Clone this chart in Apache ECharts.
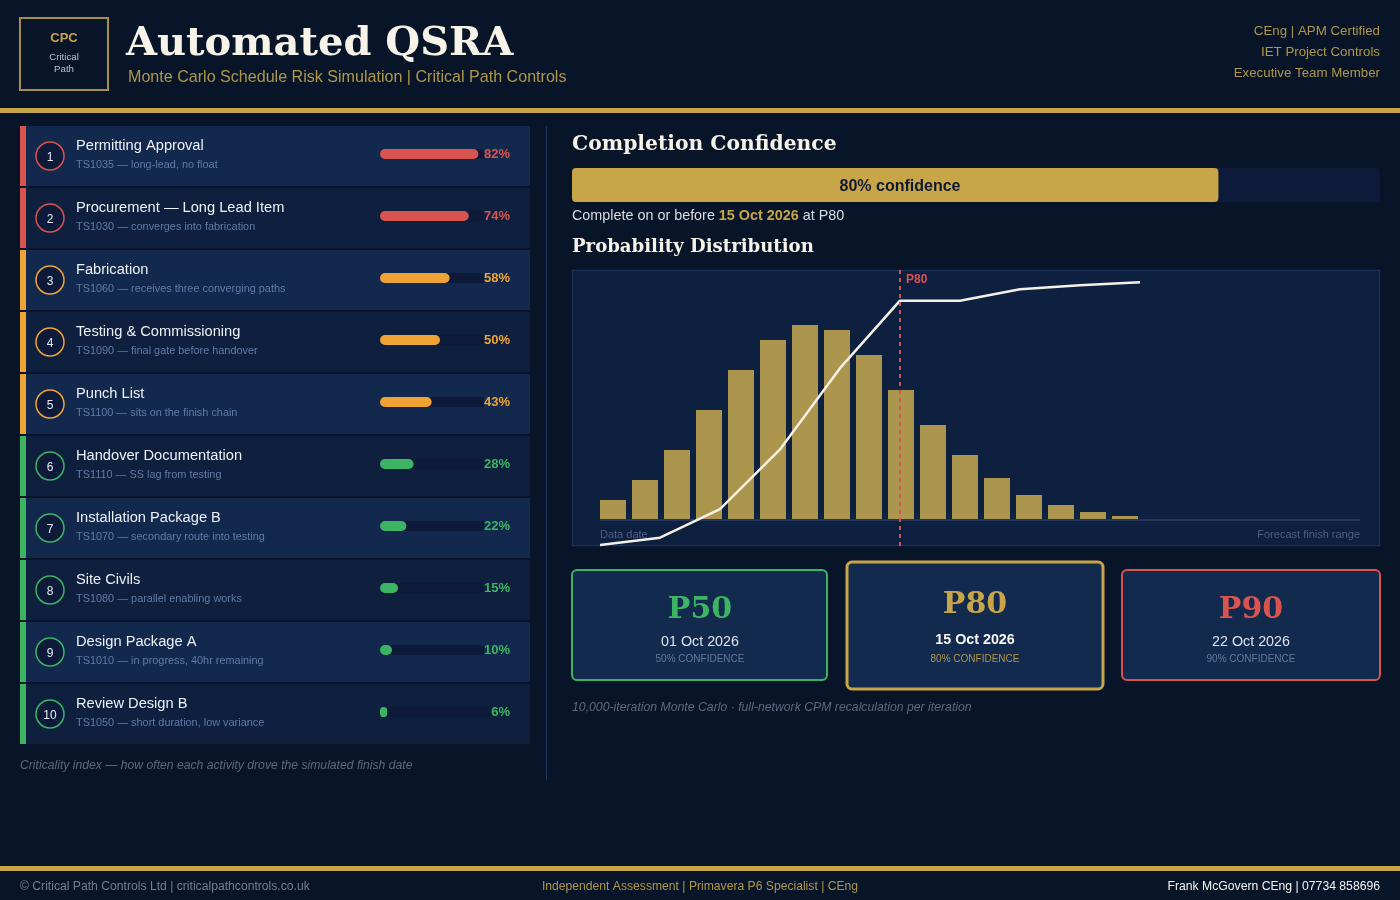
<!DOCTYPE html>
<html>
<head>
<meta charset="utf-8">
<style>
  html, body { margin: 0; padding: 0; background: #081528; }
  #chart { width: 1400px; height: 900px; }
</style>
<script src="https://cdn.jsdelivr.net/npm/echarts@6/dist/echarts.min.js"></script>
</head>
<body>
<div id="chart"></div>
<script>
// activities, most critical first
const activityNames = ['Permitting Approval', 'Procurement — Long Lead Item', 'Fabrication', 'Testing & Commissioning', 'Punch List',
  'Handover Documentation', 'Installation Package B', 'Site Civils', 'Design Package A', 'Review Design B'];
const activityNotes = ['TS1035 — long-lead, no float', 'TS1030 — converges into fabrication', 'TS1060 — receives three converging paths',
  'TS1090 — final gate before handover', 'TS1100 — sits on the finish chain', 'TS1110 — SS lag from testing',
  'TS1070 — secondary route into testing', 'TS1080 — parallel enabling works', 'TS1010 — in progress, 40hr remaining', 'TS1050 — short duration, low variance'];
const criticality = [82, 74, 58, 50, 43, 28, 22, 15, 10, 6];

// histogram bins, and the empty range after them
const binLabels = ['b1', 'b2', 'b3', 'b4', 'b5', 'b6', 'b7', 'b8', 'b9', 'b10', 'b11', 'b12', 'b13', 'b14', 'b15', 'b16', 'b17', 'b18', 'b19', 'b20', 'b21', 'b22', 'b23', 'b24'];
const binCounts = [20, 40, 70, 110, 150, 180, 195, 190, 165, 130, 95, 65, 42, 25, 15, 8, 4];

// cumulative curve
const cumPosition = [0, 60, 120, 180, 240, 300, 360, 420, 480, 540];
const cumPercent = [0.3, 2.7, 12, 31.5, 58, 80, 80, 83.7, 85, 86];
const p80Position = 300;
const baselineLevel = 8.5;

const confidence = [80];
const cardNames = ['P50', 'P80', 'P90'];
const cardDates = ['01 Oct 2026', '15 Oct 2026', '22 Oct 2026'];
const cardConfidence = ['50% CONFIDENCE', '80% CONFIDENCE', '90% CONFIDENCE'];
const credentials = ['CEng | APM Certified', 'IET Project Controls', 'Executive Team Member'];

const GOLD = '#c8a548', RED = '#d9534f', AMBER = '#f0a335', GREEN = '#3cb463';
const SANS = '"Liberation Sans", Arial, sans-serif';
const SERIF = '"DejaVu Serif", serif';
const ROW_A = '#12294d', ROW_B = '#0e203e', TRACK = '#0d1a3a';

const tierColor = v => (v >= 70 ? RED : v >= 40 ? AMBER : GREEN);

function txt(x, y, text, font, fill, align) {
  return { type: 'text', x: x, y: y, z: 5, silent: true,
    style: { text: text, font: font, fill: fill, align: align || 'left', verticalAlign: 'middle' } };
}
function box(x, y, w, h, fill, stroke, lineWidth, r) {
  return { type: 'rect', z: 0, silent: true, shape: { x: x, y: y, width: w, height: h, r: r || 0 },
    style: { fill: fill, stroke: stroke || null, lineWidth: lineWidth || 0 } };
}

const els = [];

// header
els.push(box(20, 18, 88, 72, 'transparent', '#a68f4c', 2));
els.push(txt(64, 38, 'CPC', 'bold 13px ' + SANS, GOLD, 'center'));
els.push(txt(64, 57.5, 'Critical', '9.7px ' + SANS, '#b9c1cc', 'center'));
els.push(txt(64, 69.5, 'Path', '9.7px ' + SANS, '#b9c1cc', 'center'));
els.push(txt(126, 45, 'Automated QSRA', 'bold 40px ' + SERIF, '#f7f3e8'));
els.push(txt(128, 78, 'Monte Carlo Schedule Risk Simulation | Critical Path Controls', '16.08px ' + SANS, '#b0964a'));
credentials.forEach((c, i) => els.push(txt(1380, 31 + i * 21, c, '13.3px ' + SANS, '#b0964a', 'right')));
els.push(box(0, 108, 1400, 5, GOLD));

// activity rows
activityNames.forEach((name, i) => {
  const top = 126 + i * 62;
  const col = tierColor(criticality[i]);
  els.push(box(26, top, 504, 60, i % 2 ? ROW_B : ROW_A));
  els.push(box(20, top, 6, 60, col));
  els.push({ type: 'circle', z: 1, silent: true, shape: { cx: 50, cy: top + 30, r: 14 },
    style: { fill: TRACK, stroke: col, lineWidth: 1.5 } });
  els.push(txt(50, top + 31.5, String(i + 1), '12px ' + SANS, '#e6eaf0', 'center'));
  els.push(txt(76, top + 19.5, name, '14.65px ' + SANS, '#eef1f5'));
  els.push(txt(76, top + 39, activityNotes[i], '10.9px ' + SANS, '#607aa6'));
});
els.push({ type: 'text', x: 20, y: 766, z: 5, silent: true, style: { text: 'Criticality index — how often each activity drove the simulated finish date',
  font: 'italic 12.18px ' + SANS, fill: '#5b6881', verticalAlign: 'middle' } });
els.push(box(546, 126, 1, 654, '#1b3560'));

// right column
els.push(txt(572, 145, 'Completion Confidence', 'bold 20.3px ' + SERIF, '#f7f3e8'));
els.push({ type: 'text', x: 572, y: 216, z: 5, silent: true, style: {
  text: 'Complete on or before {d|15 Oct 2026} at P80', font: '14.37px ' + SANS, fill: '#d9dee6', verticalAlign: 'middle',
  rich: { d: { font: 'bold 14.37px ' + SANS, fill: GOLD } } } });
els.push(txt(572, 247, 'Probability Distribution', 'bold 18.1px ' + SERIF, '#f7f3e8'));

// histogram panel
els.push(box(572.5, 270.5, 807, 275, '#0e2040', '#1a2f57', 1.5));
els.push(txt(600, 534.5, 'Data date', '11px ' + SANS, '#4d5f82'));
els.push(txt(1360, 534.5, 'Forecast finish range', '11px ' + SANS, '#4d5f82', 'right'));
els.push(txt(906, 280, 'P80', 'bold 12px ' + SANS, RED));

// percentile cards
const cards = [
  { x: 572, y: 570, w: 255, h: 110, c: GREEN, lw: 2, cx: 700, py: 610, dy: 642, cy: 659.5, sub: '#66789a', bold: false },
  { x: 847, y: 562, w: 256, h: 127, c: GOLD, lw: 3, cx: 975, py: 605, dy: 640, cy: 659.5, sub: '#b0964a', bold: true },
  { x: 1122, y: 570, w: 258, h: 110, c: RED, lw: 2, cx: 1251, py: 610, dy: 642, cy: 659.5, sub: '#66789a', bold: false }
];
cards.forEach((k, i) => {
  els.push(box(k.x, k.y, k.w, k.h, '#122a4e', k.c, k.lw, 5));
  els.push(txt(k.cx, k.py, cardNames[i], 'bold 30px ' + SERIF, k.c, 'center'));
  els.push(txt(k.cx, k.dy, cardDates[i], (k.bold ? 'bold ' : '') + '14.3px ' + SANS, k.bold ? '#f7f7f7' : '#dde2ea', 'center'));
  els.push(txt(k.cx, k.cy, cardConfidence[i], '10px ' + SANS, k.sub, 'center'));
});
els.push({ type: 'text', x: 572, y: 708, z: 5, silent: true, style: { text: '10,000-iteration Monte Carlo · full-network CPM recalculation per iteration',
  font: 'italic 12.25px ' + SANS, fill: '#5b6881', verticalAlign: 'middle' } });

// footer
els.push(box(0, 866, 1400, 5, GOLD));
els.push(txt(20, 886.5, '© Critical Path Controls Ltd | criticalpathcontrols.co.uk', '12.17px ' + SANS, '#6f7e98'));
els.push(txt(700, 886.5, 'Independent Assessment | Primavera P6 Specialist | CEng', '12.15px ' + SANS, '#b0964a', 'center'));
els.push(txt(1380, 886.5, 'Frank McGovern CEng | 07734 858696', '12.2px ' + SANS, '#f2f4f6', 'right'));

const hidden = { show: false };
const plainLine = { type: 'line', xAxisIndex: 3, yAxisIndex: 3, silent: true, showSymbol: false };

const option = {
  backgroundColor: '#081528',
  animation: false,
  graphic: { elements: els },
  grid: [
    { left: 380, top: 123, width: 120, height: 620 },
    { left: 572, top: 168, width: 808, height: 34 },
    { left: 597, top: 270, width: 768, height: 250 },
    { left: 600, top: 270, width: 760, height: 276 }
  ],
  xAxis: [
    { gridIndex: 0, type: 'value', min: 0, max: 100, ...hidden },
    { gridIndex: 1, type: 'value', min: 0, max: 100, ...hidden },
    { gridIndex: 2, type: 'category', data: binLabels, ...hidden },
    { gridIndex: 3, type: 'value', min: 0, max: 760, ...hidden }
  ],
  yAxis: [
    { gridIndex: 0, type: 'category', inverse: true, data: activityNames, ...hidden },
    { gridIndex: 1, type: 'category', data: ['confidence'], ...hidden },
    { gridIndex: 2, type: 'value', min: 0, max: 250, ...hidden },
    { gridIndex: 3, type: 'value', min: 0, max: 90, ...hidden }
  ],
  series: [
    {
      // full-width track, its label masks the end of it
      type: 'bar', xAxisIndex: 0, yAxisIndex: 0, barWidth: 10, barGap: '-100%', silent: true,
      itemStyle: { color: TRACK, borderRadius: 5 },
      data: criticality.map((v, i) => ({
        value: 100,
        label: { color: tierColor(v), backgroundColor: i % 2 ? ROW_B : ROW_A }
      })),
      label: {
        show: true, position: [130, 5.5], align: 'right', verticalAlign: 'middle',
        fontFamily: SANS, fontSize: 13, fontWeight: 'bold',
        lineHeight: 16, formatter: p => criticality[p.dataIndex] + '%'
      }
    },
    {
      type: 'bar', xAxisIndex: 0, yAxisIndex: 0, barWidth: 10, barGap: '-100%', silent: true,
      itemStyle: { borderRadius: 5 },
      data: criticality.map(v => ({ value: v, itemStyle: { color: tierColor(v) } }))
    },
    {
      type: 'bar', xAxisIndex: 1, yAxisIndex: 1, barWidth: 34, silent: true,
      showBackground: true, backgroundStyle: { color: TRACK, borderRadius: 4 },
      itemStyle: { color: GOLD, borderRadius: 4 },
      data: confidence,
      label: {
        show: true, position: [328, 19], align: 'center', verticalAlign: 'middle',
        color: '#0c1a33', fontFamily: SANS, fontSize: 16, fontWeight: 'bold',
        formatter: p => p.value + '% confidence'
      }
    },
    {
      type: 'bar', xAxisIndex: 2, yAxisIndex: 2, barWidth: 26, silent: true, z: 2,
      itemStyle: { color: '#ac954d' },
      data: binCounts
    },
    {
      ...plainLine, z: 3,
      lineStyle: { color: '#25375c', width: 2 },
      data: [[0, baselineLevel], [760, baselineLevel]]
    },
    {
      ...plainLine, z: 4,
      lineStyle: { color: '#f5f1e6', width: 2.5 },
      data: cumPosition.map((x, i) => [x, cumPercent[i]])
    },
    {
      ...plainLine, z: 5,
      lineStyle: { color: '#cf5450', width: 2, type: [4, 4] },
      data: [[p80Position, 0], [p80Position, 90]]
    }
  ]
};

const chart = echarts.init(document.getElementById('chart'));
chart.setOption(option);
</script>
</body>
</html>
